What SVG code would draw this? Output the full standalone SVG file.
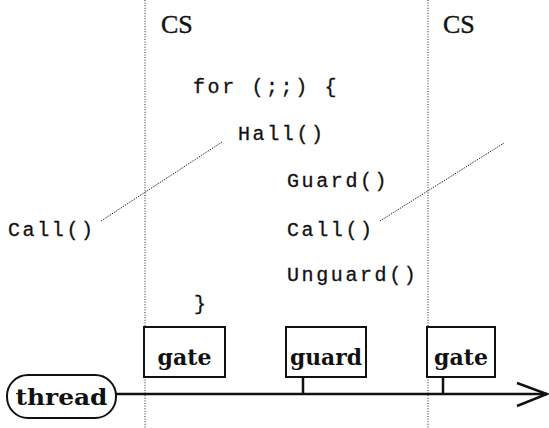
<svg xmlns="http://www.w3.org/2000/svg" width="549" height="428" viewBox="0 0 549 428">
  <style>
    .bg { fill: #ffffff; }
    .sep { stroke: #222; stroke-width: 1; stroke-dasharray: 1 1.6; fill: none; }
    .lead { stroke: #222; stroke-width: 1; stroke-dasharray: 1.4 1.2; fill: none; }
    .code { font-family: "Liberation Mono", "DejaVu Sans Mono", monospace; font-size: 20px; letter-spacing: 2.6px; fill: #111; stroke: #111; stroke-width: 0.3; }
    .title { font-family: "Liberation Serif", "DejaVu Serif", serif; font-size: 26px; fill: #111; stroke: #111; stroke-width: 0.4; }
    .lbl { font-family: "DejaVu Serif", "Liberation Serif", serif; font-size: 22px; font-weight: bold; fill: #111; }
    .box { fill: #ffffff; stroke: #111; stroke-width: 2; }
    .line { stroke: #111; stroke-width: 2.5; fill: none; }
  </style>
  <rect class="bg" x="0" y="0" width="549" height="428"/>

  <!-- region separators -->
  <g id="separators">
    <line class="sep" x1="145" y1="0" x2="145" y2="428"/>
    <line class="sep" x1="428" y1="0" x2="428" y2="428"/>
  </g>

  <!-- region titles -->
  <g id="cs-left"><text class="title" x="161" y="33">CS</text></g>
  <g id="cs-right"><text class="title" x="443" y="33">CS</text></g>

  <!-- loop body -->
  <g id="code">
    <text class="code" x="193" y="93">for (;;) {</text>
    <text class="code" x="238" y="140">Hall()</text>
    <text class="code" x="287" y="187">Guard()</text>
    <text class="code" x="287" y="236">Call()</text>
    <text class="code" x="287" y="281">Unguard()</text>
    <text class="code" x="194" y="310">}</text>
  </g>
  <g id="call-left"><text class="code" x="8" y="236">Call()</text></g>

  <!-- leader lines and timeline -->
  <g id="connectors">
    <line class="lead" x1="101" y1="221" x2="222" y2="142"/>
    <line class="lead" x1="380" y1="221" x2="504" y2="143"/>
    <line class="line" x1="116" y1="394" x2="547" y2="394"/>
    <polyline class="line" points="517,383 547,394 517,406"/>
    <line class="line" x1="303" y1="377" x2="303" y2="394"/>
    <line class="line" x1="443" y1="377" x2="443" y2="394"/>
  </g>

  <g id="gate-1">
    <rect class="box" x="144" y="327" width="81" height="50"/>
    <text class="lbl" x="184.5" y="365" text-anchor="middle">gate</text>
  </g>
  <g id="guard">
    <rect class="box" x="286" y="327" width="80" height="50"/>
    <text class="lbl" x="326" y="365" text-anchor="middle" textLength="72" lengthAdjust="spacingAndGlyphs">guard</text>
  </g>
  <g id="gate-2">
    <rect class="box" x="427" y="327" width="68" height="50"/>
    <text class="lbl" x="461" y="365" text-anchor="middle">gate</text>
  </g>
  <g id="thread">
    <rect class="box" x="7" y="375" width="109" height="43" rx="21" ry="21"/>
    <text class="lbl" x="61.5" y="405" text-anchor="middle" textLength="92" lengthAdjust="spacingAndGlyphs">thread</text>
  </g>
</svg>
